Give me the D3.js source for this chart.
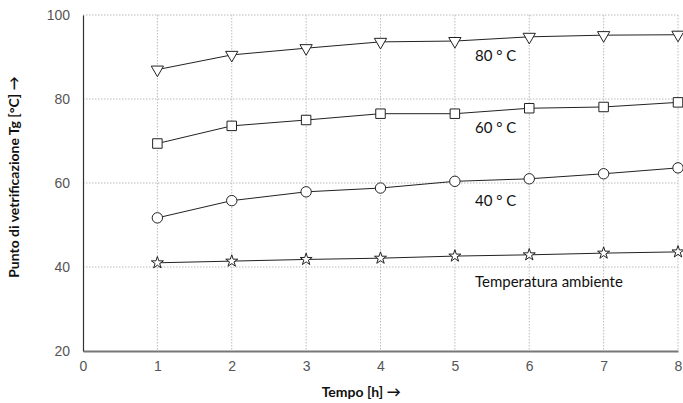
<!DOCTYPE html>
<html>
<head>
<meta charset="utf-8">
<style>
  body { margin: 0; background: #fff; font-family: Lato, "Open Sans", sans-serif; }
  .grid line { stroke: #bbb; stroke-dasharray: 1.5,1.5; }
  .tick text { fill: #555; font-size: 14px; font-weight: 300; }
  .series { fill: none; stroke: #222; stroke-width: 1; }
  .mark { fill: #fff; stroke: #222; stroke-width: 1; }
  .lbl { font-size: 15px; fill: #111; }
  .title { font-size: 14px; font-weight: 700; fill: #111; }
</style>
</head>
<body>
<svg id="chart" width="683" height="403"></svg>
<script src="https://cdn.jsdelivr.net/npm/d3@7"></script>
<script>
// data
var hours = [1, 2, 3, 4, 5, 6, 7, 8];
var t80 = [87.0, 90.5, 92.1, 93.6, 93.8, 94.8, 95.2, 95.3];
var t60 = [69.4, 73.6, 75.0, 76.5, 76.5, 77.8, 78.1, 79.2];
var t40 = [51.7, 55.8, 57.9, 58.8, 60.4, 61.0, 62.2, 63.6];
var tAmb = [41.0, 41.4, 41.8, 42.1, 42.6, 42.9, 43.3, 43.6];
var seriesNames = ['80 ° C', '60 ° C', '40 ° C', 'Temperatura ambiente'];
var xTicks = [0, 1, 2, 3, 4, 5, 6, 7, 8];
var yTicks = [20, 40, 60, 80, 100];

var margin = { top: 15, right: 5, bottom: 52, left: 83 },
    width = 683 - margin.left - margin.right,
    height = 403 - margin.top - margin.bottom;

var svg = d3.select('#chart').append('g')
    .attr('transform', 'translate(' + margin.left + ',' + margin.top + ')');

var x = d3.scaleLinear().domain([0, 8]).range([0, width]);
var y = d3.scaleLinear().domain([20, 100]).range([height, 0]);

// grid
var grid = svg.append('g').attr('class', 'grid');
grid.selectAll('.vx').data(xTicks.slice(1)).enter().append('line')
    .attr('x1', d => x(d)).attr('x2', d => x(d))
    .attr('y1', 0).attr('y2', height);
grid.selectAll('.hy').data(yTicks.slice(1)).enter().append('line')
    .attr('x1', 0).attr('x2', width)
    .attr('y1', d => y(d)).attr('y2', d => y(d));

// axes
var xAxis = svg.append('g')
    .attr('transform', 'translate(0,' + height + ')')
    .call(d3.axisBottom(x).tickValues(xTicks).tickSize(0).tickPadding(10).tickFormat(d3.format('d')));
xAxis.select('.domain').attr('stroke', '#777').attr('stroke-width', 2);

var yAxis = svg.append('g')
    .call(d3.axisLeft(y).tickValues(yTicks).tickSize(0).tickPadding(13));
yAxis.select('.domain').attr('stroke', '#333').attr('stroke-width', 1.2);
yAxis.selectAll('.tick text').attr('dy', '0.35em');

// series
var all = [t80, t60, t40, tAmb].map(function (vals, i) {
    return { name: seriesNames[i], pts: hours.map((h, j) => ({ h: h, v: vals[j] })) };
});
var line = d3.line().x(d => x(d.h)).y(d => y(d.v));
var symbols = [
    d3.symbol().type(d3.symbolTriangle).size(65),
    d3.symbol().type(d3.symbolSquare).size(90),
    d3.symbol().type(d3.symbolCircle).size(85),
    d3.symbol().type(d3.symbolStar).size(45)
];

all.forEach(function (s, i) {
    svg.append('path').datum(s.pts).attr('class', 'series').attr('d', line);
    svg.selectAll('.m' + i).data(s.pts).enter().append('path')
        .attr('class', 'mark')
        .attr('d', symbols[i])
        .attr('transform', d => 'translate(' + x(d.h) + ',' + y(d.v) + ')' + (i === 0 ? ' rotate(180)' : ''));
});

// series labels
var lblPos = [[5.27, 89.0], [5.27, 71.8], [5.27, 54.5], [5.27, 35.2]];
svg.selectAll('.lbl').data(seriesNames).enter().append('text')
    .attr('class', 'lbl')
    .attr('x', (d, i) => x(lblPos[i][0]))
    .attr('y', (d, i) => y(lblPos[i][1]))
    .text(d => d);

// axis titles
svg.append('text').attr('class', 'title')
    .attr('x', x(3.74)).attr('y', height + 46)
    .attr('text-anchor', 'middle')
    .text('Tempo [h] →');
svg.append('text').attr('class', 'title')
    .attr('transform', 'translate(' + (-64) + ',' + y(61.4) + ') rotate(-90)')
    .attr('text-anchor', 'middle')
    .text('Punto di vetrificazione Tg [°C] →');
</script>
</body>
</html>
